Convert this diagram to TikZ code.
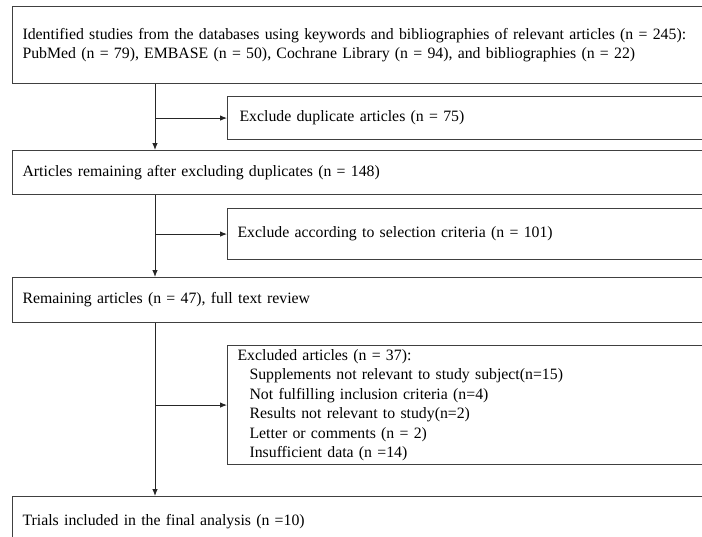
\documentclass[tikz,border=0pt]{standalone}
\usepackage{fontspec}
\setmainfont{Liberation Serif}
\usetikzlibrary{arrows.meta}
\begin{document}
\begin{tikzpicture}[x=1pt,y=1pt,
  box/.style={draw=black!75, line width=1.1pt, anchor=north west, inner xsep=8pt, inner ysep=2pt,
    minimum width=720pt, text width=700pt, align=left, font=\fontsize{15.8}{19.5}\selectfont},
  arr/.style={draw=black!85, line width=0.9pt, -{Latex[length=7pt,width=5.5pt]}}]
\useasboundingbox (0,0) rectangle (702,-536);
\fill[white] (0,0) rectangle (702,-536);
\node[box, minimum height=77pt] (b1) at (12,-6)
  {Identified studies from the databases using keywords and bibliographies of relevant articles (n = 245):\\
   PubMed (n = 79), EMBASE (n = 50), Cochrane Library (n = 94), and bibliographies (n = 22)};
\node[box, minimum height=43pt, inner xsep=12pt] (b2) at (227,-96) {Exclude duplicate articles (n = 75)};
\node[box, minimum height=44pt] (b3) at (12,-150) {Articles remaining after excluding duplicates (n = 148)};
\node[box, minimum height=51pt, inner xsep=7pt] (b4) at (227,-208) {Exclude according to selection criteria (n = 101)};
\node[box, minimum height=45pt] (b5) at (12,-277) {Remaining articles (n = 47), full text review};
\node[box, minimum height=119pt, inner xsep=8pt] (b6) at (227,-345)
  {Excluded articles (n = 37):\\
   \hspace*{12pt}Supplements not relevant to study subject(n=15)\\
   \hspace*{12pt}Not fulfilling inclusion criteria (n=4)\\
   \hspace*{12pt}Results not relevant to study(n=2)\\
   \hspace*{12pt}Letter or comments (n = 2)\\
   \hspace*{12pt}Insufficient data (n =14)};
\node[box, minimum height=50pt] (b7) at (12,-496) {Trials included in the final analysis (n =10)};
\coordinate (sp) at (155,0);
\draw[arr] (b1.south -| sp) -- (b3.north -| sp);
\draw[arr] (b3.south -| sp) -- (b5.north -| sp);
\draw[arr] (b5.south -| sp) -- (b7.north -| sp);
\draw[arr] (sp |- b2.west) -- (b2.west);
\draw[arr] (sp |- b4.west) -- (b4.west);
\draw[arr] (sp |- b6.west) -- (b6.west);
\end{tikzpicture}
\end{document}
